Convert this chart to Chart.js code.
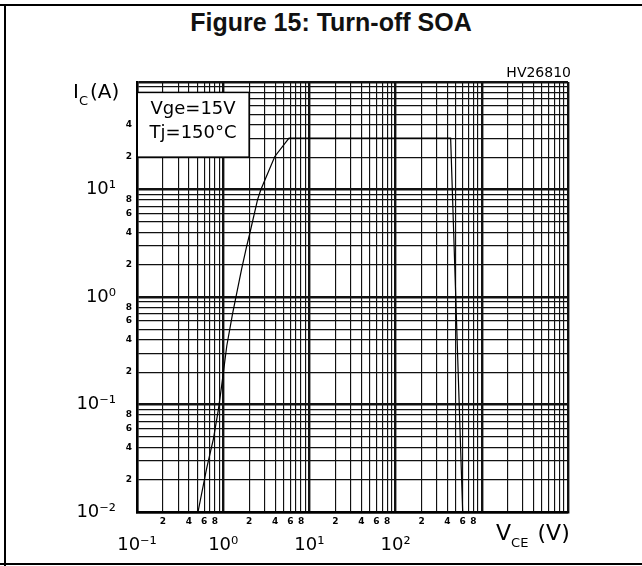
<!DOCTYPE html>
<html lang="en">
<head>
<meta charset="UTF-8">
<title>Figure 15: Turn-off SOA</title>
<script src="https://cdn.jsdelivr.net/npm/chart.js"></script>
<style>
  html, body { margin: 0; padding: 0; background: #fff; }
  .page { position: relative; width: 642px; height: 566px; overflow: hidden; }
  .rule-top { position: absolute; left: 0; top: 4px; width: 642px; height: 2px; background: #000; }
  .rule-left { position: absolute; left: 4px; top: 4px; width: 2px; height: 562px; background: #000; }
  .rule-bottom { position: absolute; left: 0; top: 563px; width: 642px; height: 2px; background: #000; }
  .title {
    position: absolute; left: 131px; width: 400px; top: 10px;
    text-align: center; color: #111;
    font: bold 25px/25px "Liberation Sans", Arial, sans-serif;
  }
  canvas { position: absolute; left: 0; top: 0; }
</style>
</head>
<body>
<div class="page">
  <div class="rule-top"></div>
  <div class="rule-left"></div>
  <div class="rule-bottom"></div>
  <div class="title">Figure 15: Turn-off SOA</div>
  <canvas id="soa" width="642" height="566"></canvas>
</div>

<script>
// SOA boundary: VCE (V) / IC (A)
const vceCurve = [0.51, 0.64, 0.77, 0.88, 0.96, 1.1, 1.28, 1.63, 1.87, 2.04, 2.5, 2.73, 3.97, 5.8, 435, 600];
const icCurve = [0.01, 0.025, 0.048, 0.09, 0.15, 0.35, 0.69, 1.8, 2.96, 3.94, 8.0, 9.95, 20.3, 30, 30, 0.01];

// axis ticks
const xDecades = [0.1, 1, 10, 100, 1000];
const yDecades = [0.01, 0.1, 1, 10];
const steps = [1, 2, 3, 4, 5, 6, 7, 8, 9];
const xDecadeTicks = [0.1, 1, 10, 100];
const xDecadeLabels = ['10⁻¹', '10⁰', '10¹', '10²'];
const yDecadeTicks = [0.01, 0.1, 1, 10];
const yDecadeLabels = ['10⁻²', '10⁻¹', '10⁰', '10¹'];
const xMinorTicks = [0.2, 0.4, 0.6, 0.8, 2, 4, 6, 8, 20, 40, 60, 80, 200, 400, 600, 800];
const xMinorLabels = ['2', '4', '6', '8', '2', '4', '6', '8', '2', '4', '6', '8', '2', '4', '6', '8'];
const yMinorTicks = [0.02, 0.04, 0.06, 0.08, 0.2, 0.4, 0.6, 0.8, 2, 4, 6, 8, 20, 40];
const yMinorLabels = ['2', '4', '6', '8', '2', '4', '6', '8', '2', '4', '6', '8', '2', '4'];

const conditions = ['Vge=15V', 'Tj=150°C'];
const docCode = 'HV26810';

const gridOf = (decades, last) =>
    decades.flatMap(d => steps.map(s => +(s * d).toPrecision(4))).concat([last]);
const xGrid = gridOf(xDecades, 10000);
const yGrid = gridOf(yDecades, 100);

const same = (a, b) => Math.abs(a - b) <= Math.abs(b) * 1e-6;
const labelFor = (ticks, labels) => v => {
    const i = ticks.findIndex(t => same(v, t));
    return i < 0 ? '' : labels[i];
};
const isDecade = v => Math.abs(Math.log10(v) - Math.round(Math.log10(v))) < 1e-6;

const grid = {
    color: '#111',
    lineWidth: c => (c.tick && isDecade(c.tick.value)) ? 2.4 : 1.15,
    drawTicks: false
};
const minorFont = { family: 'DejaVu Sans', size: 9, weight: 'bold' };
const decadeFont = { family: 'DejaVu Sans', size: 18 };

function drawSub(ctx, main, sub, tail, x, base, size, subSize) {
    ctx.font = size + 'px "DejaVu Sans"';
    ctx.fillText(main, x, base);
    let w = ctx.measureText(main).width;
    ctx.font = subSize + 'px "DejaVu Sans"';
    ctx.fillText(sub, x + w, base + subSize * 0.55);
    w += ctx.measureText(sub).width;
    ctx.font = size + 'px "DejaVu Sans"';
    ctx.fillText(tail, x + w + size * 0.1, base);
}

const notes = {
    id: 'notes',
    afterDraw(chart) {
        const { ctx, scales: { x, y } } = chart;
        ctx.save();

        // test conditions box, 0.1..2 V by 20..80 A
        const l = x.getPixelForValue(0.1), r = x.getPixelForValue(2);
        const t = y.getPixelForValue(80), b = y.getPixelForValue(20);
        ctx.fillStyle = '#fff';
        ctx.fillRect(l + 1, t, r - l - 1, b - t);
        ctx.strokeStyle = '#000';
        ctx.lineWidth = 1.5;
        ctx.strokeRect(l, t, r - l, b - t);
        ctx.fillStyle = '#000';
        ctx.font = '18px "DejaVu Sans"';
        ctx.textAlign = 'center';
        ctx.textBaseline = 'middle';
        ctx.fillText(conditions[0], (l + r) / 2, t + 17);
        ctx.fillText(conditions[1], (l + r) / 2, t + 41);

        ctx.textBaseline = 'alphabetic';
        ctx.textAlign = 'right';
        ctx.font = '14px "DejaVu Sans"';
        ctx.fillText(docCode, chart.chartArea.right + 3, chart.chartArea.top - 5);

        ctx.textAlign = 'left';
        drawSub(ctx, 'I', 'C', '(A)', 73, 98, 20, 13);
        drawSub(ctx, 'V', 'CE', ' (V)', 496, 540, 22, 13);
        ctx.restore();
    }
};

new Chart(document.getElementById('soa'), {
    type: 'line',
    data: {
        datasets: [{
            data: vceCurve.map((v, i) => ({ x: v, y: icCurve[i] })),
            borderColor: '#000',
            borderWidth: 1.2,
            pointRadius: 0,
            tension: 0,
            fill: false
        }]
    },
    options: {
        responsive: false,
        animation: false,
        layout: { padding: { left: 40, right: 74, top: 82, bottom: 14 } },
        plugins: { legend: { display: false }, tooltip: { enabled: false } },
        scales: {
            x: {
                type: 'logarithmic', position: 'bottom', min: 0.1, max: 10000,
                grid: grid,
                border: { color: '#000', width: 2.4 },
                ticks: { autoSkip: false, maxRotation: 0, padding: 4, color: '#000', font: minorFont,
                    callback: labelFor(xMinorTicks, xMinorLabels) },
                afterBuildTicks: s => { s.ticks = xGrid.map(v => ({ value: v })); },
                afterFit: s => { s.height = 14; }
            },
            xDec: {
                type: 'logarithmic', position: 'bottom', min: 0.1, max: 10000, weight: 1,
                grid: { display: false }, border: { display: false },
                ticks: { autoSkip: false, maxRotation: 0, padding: 1, color: '#000', font: decadeFont,
                    callback: labelFor(xDecadeTicks, xDecadeLabels) },
                afterBuildTicks: s => { s.ticks = xDecadeTicks.map(v => ({ value: v })); },
                afterFit: s => { s.height = 26; }
            },
            y: {
                type: 'logarithmic', position: 'left', min: 0.01, max: 100,
                grid: grid,
                border: { color: '#000', width: 2.4 },
                ticks: { autoSkip: false, padding: 5, color: '#000', font: minorFont,
                    callback: labelFor(yMinorTicks, yMinorLabels) },
                afterBuildTicks: s => { s.ticks = yGrid.map(v => ({ value: v })); },
                afterFit: s => { s.width = 12; }
            },
            yDec: {
                type: 'logarithmic', position: 'left', min: 0.01, max: 100, weight: 1,
                grid: { display: false }, border: { display: false },
                ticks: { autoSkip: false, padding: 1, color: '#000', font: decadeFont,
                    callback: labelFor(yDecadeTicks, yDecadeLabels) },
                afterBuildTicks: s => { s.ticks = yDecadeTicks.map(v => ({ value: v })); },
                afterFit: s => { s.width = 85; }
            }
        }
    },
    plugins: [notes]
});
</script>
</body>
</html>
